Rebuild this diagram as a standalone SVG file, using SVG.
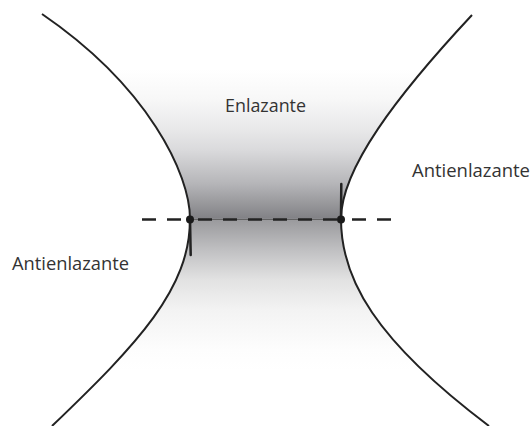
<svg xmlns="http://www.w3.org/2000/svg" width="532" height="426" viewBox="0 0 532 426">
  <defs>
    <linearGradient id="shade" gradientUnits="userSpaceOnUse" x1="0" y1="0" x2="0" y2="426">
      <stop offset="0.164" stop-color="#ffffff"/>
      <stop offset="0.235" stop-color="#f7f7f7"/>
      <stop offset="0.305" stop-color="#e8e8e9"/>
      <stop offset="0.352" stop-color="#dadadc"/>
      <stop offset="0.430" stop-color="#b6b6b9"/>
      <stop offset="0.512" stop-color="#828286"/>
      <stop offset="0.516" stop-color="#9a9a9d"/>
      <stop offset="0.587" stop-color="#c0c0c2"/>
      <stop offset="0.657" stop-color="#e2e2e2"/>
      <stop offset="0.728" stop-color="#f3f3f3"/>
      <stop offset="0.822" stop-color="#fdfdfd"/>
      <stop offset="0.870" stop-color="#ffffff"/>
    </linearGradient>
  </defs>
  <style>
    .curve { fill: none; stroke: #222; stroke-width: 2; }
    .dash { fill: none; stroke: #222; stroke-width: 2.5; stroke-dasharray: 14 11; }
    .tick { stroke: #222; stroke-width: 2.5; stroke-linecap: round; }
    .dot { fill: #1a1a1a; }
    .label { font-family: "Open Sans", "Liberation Sans", Arial, sans-serif; font-size: 17.5px; fill: #333; }
  </style>
  <rect width="532" height="426" fill="#ffffff"/>
  <g id="region">
    <path d="M42,14 C148.4,86.8 190,174 190,219 C190,289 138.4,343.2 52,426 L489,426 C375,340 341,279 341,219 C341,169 396.4,96 472,15 Z" fill="url(#shade)"/>
  </g>
  <g id="connectors">
    <line x1="190" y1="219.5" x2="341" y2="219.5" stroke="#555" stroke-width="0.8"/>
    <line class="dash" x1="142" y1="219.5" x2="190" y2="219.5"/>
    <line class="dash" x1="198" y1="219.5" x2="341" y2="219.5"/>
    <line class="dash" x1="352" y1="219.5" x2="393" y2="219.5"/>
  </g>
  <g id="left-curve">
    <path class="curve" d="M42,14 C148.4,86.8 190,174 190,219 C190,289 138.4,343.2 52,426"/>
    <line class="tick" x1="190" y1="219" x2="190.7" y2="255"/>
    <circle class="dot" cx="190" cy="219.5" r="4"/>
  </g>
  <g id="right-curve">
    <path class="curve" d="M472,15 C396.4,96 341,169 341,219 C341,279 375,340 489,426"/>
    <line class="tick" x1="341.3" y1="184" x2="341" y2="219"/>
    <circle class="dot" cx="341" cy="219.5" r="4"/>
  </g>
  <g id="label-enlazante">
    <text class="label" x="265.5" y="111.5" text-anchor="middle" textLength="81" lengthAdjust="spacingAndGlyphs">Enlazante</text>
  </g>
  <g id="label-antienlazante-left">
    <text class="label" x="12" y="269.5" textLength="117" lengthAdjust="spacingAndGlyphs">Antienlazante</text>
  </g>
  <g id="label-antienlazante-right">
    <text class="label" x="412" y="177" textLength="118" lengthAdjust="spacingAndGlyphs">Antienlazante</text>
  </g>
</svg>
